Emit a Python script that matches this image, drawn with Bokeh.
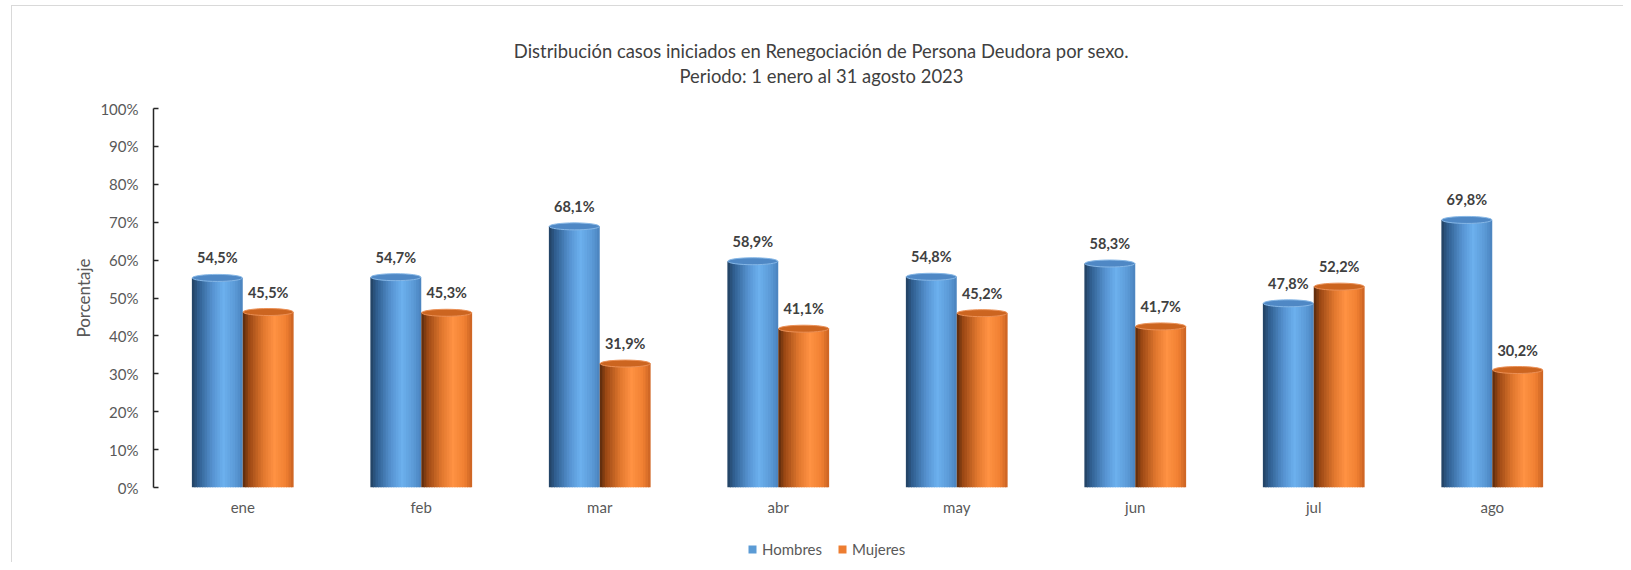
from bokeh.plotting import figure
from bokeh.layouts import column
from bokeh.models import (Range1d, FixedTicker, Legend, LegendItem,
                          ColumnDataSource, Label)
from bokeh.core.properties import value
from bokeh.embed import file_html
from bokeh.resources import INLINE

# ---------------- data ----------------
months = ["ene", "feb", "mar", "abr", "may", "jun", "jul", "ago"]
hombres = [54.5, 54.7, 68.1, 58.9, 54.8, 58.3, 47.8, 69.8]
mujeres = [45.5, 45.3, 31.9, 41.1, 45.2, 41.7, 52.2, 30.2]
series_names = ["Hombres", "Mujeres"]
y_ticks = [0, 10, 20, 30, 40, 50, 60, 70, 80, 90, 100]
title_lines = ["Distribución casos iniciados en Renegociación de Persona Deudora por sexo.",
               "Periodo: 1 enero al 31 agosto 2023"]

# ---------------- style / layout ----------------
FONT = "Lato"
BAR_W = 0.285
OFFSETS = [-0.1425, 0.1425]
CAP_LIFT = 0.8          # 3-D perspective lift of the cylinder top (axis units)
TITLE_X = 3.742         # horizontal centre of the title, in category units
TITLE_H = 98            # height of the title strip (px)
TITLE_Y = [48, 23]      # baseline-middle of each title line within the strip (px from bottom)
blue_stops = [(0.0, "#213f5e"), (0.12, "#2f5d8e"), (0.4, "#5592cf"),
              (0.62, "#6cb0ee"), (0.85, "#5b9ad6"), (1.0, "#4a82bd")]
orange_stops = [(0.0, "#56290c"), (0.12, "#9a4714"), (0.4, "#e0772e"),
                (0.62, "#ff9243"), (0.85, "#f08032"), (1.0, "#c96222")]
legend_colors = ["#5B9BD5", "#ED7D31"]
cap_fill = ["#4f88c5", "#cc6520"]
cap_line = ["#86b7e6", "#eb9056"]
N_STRIPS = 20
OVERLAP = 0.006


def hex2rgb(h):
    h = h.lstrip("#")
    return tuple(int(h[i:i + 2], 16) for i in (0, 2, 4))


def grad(stops, t):
    for (t0, c0), (t1, c1) in zip(stops[:-1], stops[1:]):
        if t0 <= t <= t1:
            f = (t - t0) / (t1 - t0) if t1 > t0 else 0
            a, b = hex2rgb(c0), hex2rgb(c1)
            r = [round(a[i] + (b[i] - a[i]) * f) for i in range(3)]
            return "#%02x%02x%02x" % tuple(r)
    return stops[-1][1]


x_range = Range1d(0, len(months))

# ---------------- title strip ----------------
p0 = figure(width=1623, height=TITLE_H, output_backend="svg", toolbar_location=None,
            x_range=x_range, y_range=Range1d(0, TITLE_H),
            x_axis_type=None, y_axis_type=None, min_border=0)
p0.outline_line_color = None
p0.background_fill_color = None
p0.border_fill_color = None
p0.grid.visible = False
for line, yy in zip(title_lines, TITLE_Y):
    p0.add_layout(Label(x=TITLE_X, y=yy, text=line, text_align="center",
                        text_baseline="middle", text_font=FONT,
                        text_font_size="18.4px", text_color="#404040"))

# ---------------- main chart ----------------
p = figure(width=1623, height=432, output_backend="svg", toolbar_location=None,
           x_range=x_range, y_range=Range1d(0, 100),
           min_border_left=153, min_border_right=42, min_border_top=10,
           min_border_bottom=43)
p.title = None
p.outline_line_color = None
p.grid.visible = False
p.background_fill_color = "white"
p.border_fill_color = None

# bars as shaded cylinders
for s, vals in enumerate([hombres, mujeres]):
    stops = blue_stops if s == 0 else orange_stops
    left, right, top, bottom, colors = [], [], [], [], []
    cx, cy = [], []
    for i, v in enumerate(vals):
        c = i + 0.5 + OFFSETS[s]
        x0 = c - BAR_W / 2
        for k in range(N_STRIPS):
            left.append(x0 + BAR_W * k / N_STRIPS)
            right.append(min(x0 + BAR_W * (k + 1) / N_STRIPS + OVERLAP, x0 + BAR_W))
            top.append(v + CAP_LIFT)
            bottom.append(0)
            colors.append(grad(stops, (k + 0.5) / N_STRIPS))
        cx.append(c)
        cy.append(v)
    p.quad(left=left, right=right, top=top, bottom=bottom,
           fill_color=colors, line_color=None)
    p.ellipse(x=cx, y=[v + CAP_LIFT for v in cy], width=BAR_W * 0.985, height=7,
              height_units="screen", fill_color=cap_fill[s], line_color=cap_line[s],
              line_width=1)
    src = ColumnDataSource(dict(x=cx, y=cy,
                                t=[("%.1f%%" % v).replace(".", ",") for v in vals]))
    p.text(x="x", y="y", text="t", source=src, text_align="center",
           text_baseline="middle", y_offset=-23, text_font=value(FONT),
           text_font_size="14.5px", text_font_style="bold", text_color="#404040")

# axes
p.yaxis.ticker = FixedTicker(ticks=y_ticks)
p.yaxis.major_label_overrides = {t: "%d%%" % t for t in y_ticks}
p.yaxis.axis_line_color = "#262626"
p.yaxis.axis_line_width = 1.5
p.yaxis.major_tick_line_color = "#262626"
p.yaxis.major_tick_line_width = 1.5
p.yaxis.major_tick_in = 5
p.yaxis.major_tick_out = 0
p.yaxis.minor_tick_line_color = None
p.yaxis.major_label_text_font = FONT
p.yaxis.major_label_text_font_size = "15px"
p.yaxis.major_label_text_color = "#595959"
p.yaxis.major_label_standoff = 15
p.yaxis.axis_label = "Porcentaje"
p.yaxis.axis_label_text_font = FONT
p.yaxis.axis_label_text_font_size = "17px"
p.yaxis.axis_label_text_font_style = "normal"
p.yaxis.axis_label_text_color = "#595959"
p.yaxis.axis_label_standoff = 3

p.xaxis.ticker = FixedTicker(ticks=[i + 0.5 for i in range(len(months))])
p.xaxis.major_label_overrides = {i + 0.5: m for i, m in enumerate(months)}
p.xaxis.axis_line_color = None
p.xaxis.major_tick_line_color = None
p.xaxis.minor_tick_line_color = None
p.xaxis.major_label_text_font = FONT
p.xaxis.major_label_text_font_size = "15px"
p.xaxis.major_label_text_color = "#595959"
p.xaxis.major_label_standoff = 4

# ---------------- legend strip ----------------
p2 = figure(width=1623, height=32, output_backend="svg", toolbar_location=None,
            x_range=Range1d(0, 1), y_range=Range1d(0, 1),
            x_axis_type=None, y_axis_type=None, min_border=0)
p2.outline_line_color = None
p2.background_fill_color = None
p2.border_fill_color = None
nan = float("nan")
r1 = p2.quad(left=[nan], right=[nan], top=[nan], bottom=[nan],
             fill_color=legend_colors[0], line_color=None)
r2 = p2.quad(left=[nan], right=[nan], top=[nan], bottom=[nan],
             fill_color=legend_colors[1], line_color=None)
legend = Legend(items=[LegendItem(label=series_names[0], renderers=[r1]),
                       LegendItem(label=series_names[1], renderers=[r2])],
                orientation="horizontal", location=(594, 4),
                glyph_width=10, glyph_height=10, label_height=16,
                label_standoff=5, spacing=15, padding=0, margin=0,
                border_line_color=None, background_fill_alpha=0,
                label_text_font=FONT, label_text_font_size="15px",
                label_text_color="#595959")
p2.add_layout(legend, "center")

layout = column(p0, p, p2, spacing=0, styles={
    "background": "linear-gradient(#d9d9d9,#d9d9d9) 11px 5px / 1px 100% no-repeat, "
                  "linear-gradient(#d9d9d9,#d9d9d9) 11px 5px / 100% 1px no-repeat, white"
})

open("out.html", "w").write(file_html(layout, INLINE))
